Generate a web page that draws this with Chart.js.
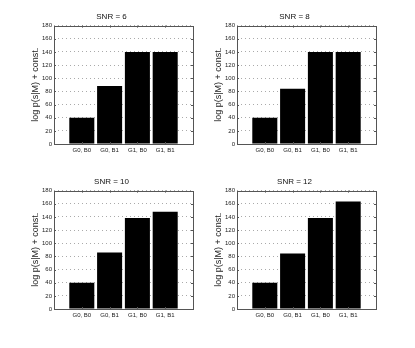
<!DOCTYPE html>
<html>
<head>
<meta charset="utf-8">
<script src="https://cdn.jsdelivr.net/npm/chart.js@4"></script>
<style>
  body { margin: 0; background: #fff; }
  #wrap { position: relative; width: 415px; height: 348px; }
  .cell { position: absolute; width: 200px; height: 165px; }
</style>
</head>
<body>
<div id="wrap">
  <div class="cell" style="left:0;top:0"><canvas id="c6"></canvas></div>
  <div class="cell" style="left:183px;top:0"><canvas id="c8"></canvas></div>
  <div class="cell" style="left:0;top:165px"><canvas id="c10"></canvas></div>
  <div class="cell" style="left:183px;top:165px"><canvas id="c12"></canvas></div>
</div>
<script>
const models = ['G0, B0', 'G0, B1', 'G1, B0', 'G1, B1'];
const snr6 = [40, 88, 140, 140];
const snr8 = [40, 84, 140, 140];
const snr10 = [40, 86, 138.5, 148];
const snr12 = [40, 84.5, 138.5, 163.5];
const yTicks = [0, 20, 40, 60, 80, 100, 120, 140, 160, 180];

const fontFam = '"Liberation Sans", Arial, Helvetica, sans-serif';

// matlab style box with inward ticks
const boxPlugin = {
  id: 'box',
  afterDraw(chart) {
    const a = chart.chartArea, ctx = chart.ctx;
    const xs = chart.scales.x, ys = chart.scales.y;
    ctx.save();
    ctx.strokeStyle = '#555';
    ctx.lineWidth = 1;
    ctx.strokeRect(Math.round(a.left) + 0.5, Math.round(a.top) + 0.5,
      Math.round(a.right - a.left), Math.round(a.bottom - a.top));
    ctx.beginPath();
    yTicks.forEach(v => {
      const y = Math.round(ys.getPixelForValue(v)) + 0.5;
      ctx.moveTo(a.left, y); ctx.lineTo(a.left + 2, y);
      ctx.moveTo(a.right, y); ctx.lineTo(a.right - 2, y);
    });
    models.forEach((m, i) => {
      const x = Math.round(xs.getPixelForValue(i + 1)) + 0.5;
      ctx.moveTo(x, a.top); ctx.lineTo(x, a.top + 2);
      ctx.moveTo(x, a.bottom); ctx.lineTo(x, a.bottom - 2);
    });
    ctx.stroke();
    ctx.restore();
  }
};

function makeChart(id, snr, values) {
  return new Chart(document.getElementById(id), {
    type: 'bar',
    data: {
      labels: [''].concat(models, ['']),
      datasets: [{
        data: [null].concat(values, [null]),
        backgroundColor: '#000',
        borderColor: '#000',
        borderWidth: 0,
        categoryPercentage: 1,
        barPercentage: 0.9
      }]
    },
    options: {
      responsive: false,
      animation: false,
      layout: { padding: { left: 30, right: 7, top: 0, bottom: 0 } },
      plugins: {
        legend: { display: false },
        tooltip: { enabled: false },
        title: {
          display: true,
          text: 'SNR = ' + snr,
          color: '#111',
          font: { family: fontFam, size: 8, weight: 'normal' },
          padding: { top: 12, bottom: 4 }
        }
      },
      scales: {
        x: {
          type: 'category',
          offset: false,
          grid: { display: false, drawTicks: false },
          border: { display: false },
          ticks: {
            color: '#222', padding: 3, maxRotation: 0, autoSkip: false,
            font: { family: fontFam, size: 6 }
          },
          afterFit(s) { s.height = 21; }
        },
        y: {
          min: 0, max: 180,
          afterBuildTicks(s) { s.ticks = yTicks.map(v => ({ value: v })); },
          grid: { color: '#aaa', drawTicks: false, lineWidth: 1 },
          border: { display: false, dash: [1, 3] },
          ticks: {
            color: '#222', padding: 2,
            font: { family: fontFam, size: 6 }
          },
          title: {
            display: true,
            text: 'log p(s|M) + const.',
            color: '#222',
            padding: 0,
            font: { family: fontFam, size: 9 }
          },
          afterFit(s) { s.width = 24; }
        }
      }
    },
    plugins: [boxPlugin]
  });
}

[['c6', 6, snr6], ['c8', 8, snr8], ['c10', 10, snr10], ['c12', 12, snr12]].forEach(p => {
  const c = document.getElementById(p[0]);
  c.width = 200; c.height = 165;
  makeChart(p[0], p[1], p[2]);
});
</script>
</body>
</html>
